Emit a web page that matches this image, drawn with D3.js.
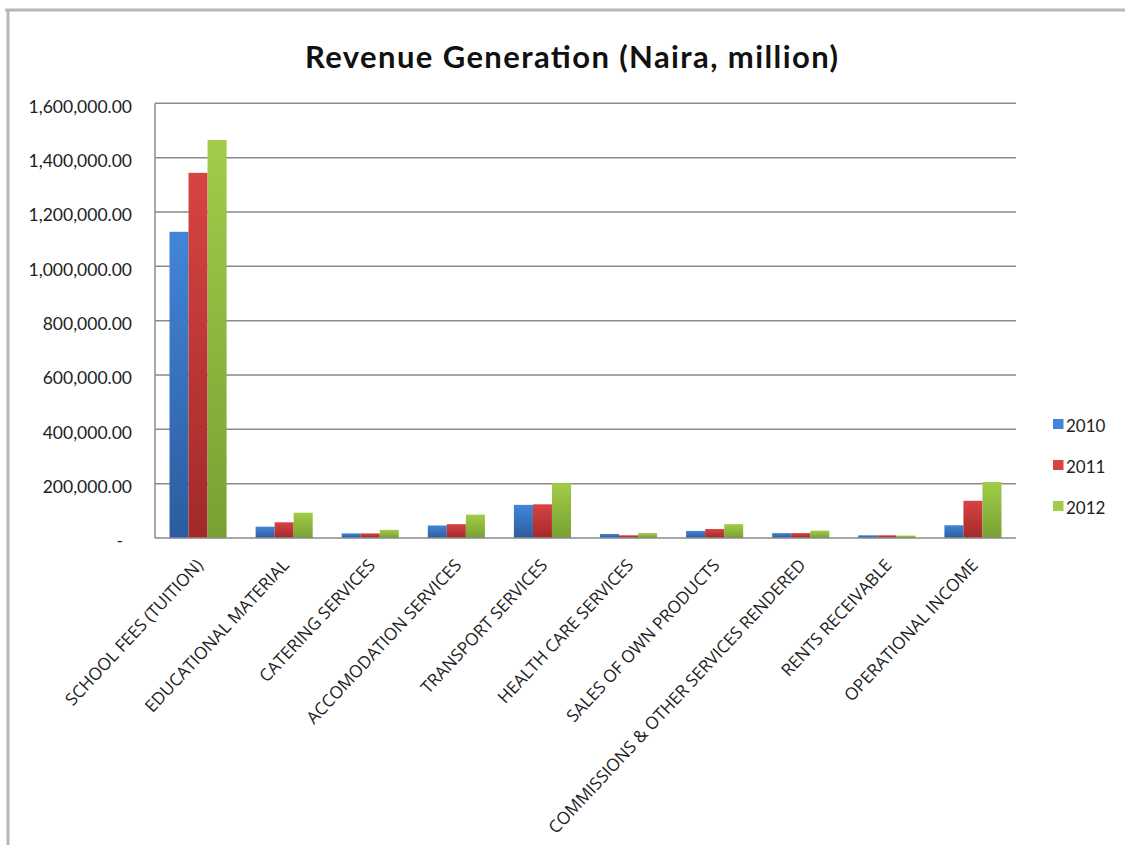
<!DOCTYPE html>
<html><head><meta charset="utf-8">
<script src="https://cdn.jsdelivr.net/npm/d3@7"></script>
<style>body{margin:0;background:#fff}svg{display:block}</style>
</head><body>
<script>
const categories = ["SCHOOL FEES (TUITION)","EDUCATIONAL MATERIAL","CATERING SERVICES","ACCOMODATION SERVICES","TRANSPORT SERVICES","HEALTH CARE SERVICES","SALES OF OWN PRODUCTS","COMMISSIONS & OTHER SERVICES RENDERED","RENTS RECEIVABLE","OPERATIONAL INCOME"];
const years = ["2010","2011","2012"];
const values2010 = [1127000, 41600, 17000, 46000, 122000, 15000, 26000, 18000, 10000, 47000];
const values2011 = [1344000, 57800, 17000, 51000, 124000, 10000, 33000, 18000, 10000, 137000];
const values2012 = [1465000, 93000, 30000, 86000, 202000, 18000, 51000, 27000, 9000, 206000];
const yTicks = [0,200000,400000,600000,800000,1000000,1200000,1400000,1600000];
const title = "Revenue Generation (Naira, million)";

const series = [values2010, values2011, values2012];
const colors = [["#4285d8","#2c5c9f"],["#d84343","#a22a2a"],["#a2cc48","#78a033"]];
const W=1125,H=845;
const svg=d3.select("body").append("svg").attr("width",W).attr("height",H);
const defs=svg.append("defs");
colors.forEach((c,i)=>{
  const g=defs.append("linearGradient").attr("id","g"+i).attr("x1",0).attr("y1",0).attr("x2",0).attr("y2",1);
  g.append("stop").attr("offset","0%").attr("stop-color",c[0]);
  g.append("stop").attr("offset","100%").attr("stop-color",c[1]);
});
// frame
svg.append("path").attr("d","M5,10 H1125 M8,10 V845").attr("stroke","#b8b8b8").attr("stroke-width",3).attr("fill","none");

const m={l:155,r:1016,t:103.3,b:538};
const x=d3.scaleBand().domain(categories).range([m.l,m.r]).paddingInner(0.337).paddingOuter(0.1685);
const xs=d3.scaleBand().domain(years).range([0,x.bandwidth()]);
const y=d3.scaleLinear().domain([0,1600000]).range([m.b,m.t]);

svg.append("text").attr("x",571.5).attr("y",67.5).attr("text-anchor","middle")
 .attr("font-family","Lato, 'Open Sans', sans-serif").attr("font-weight","bold").attr("font-size",31)
 .attr("textLength",533).attr("lengthAdjust","spacing").attr("fill","#111").text(title);

// grid
svg.append("g").selectAll("line").data(yTicks.slice(1)).join("line")
 .attr("x1",m.l).attr("x2",m.r).attr("y1",d=>y(d)).attr("y2",d=>y(d)).attr("stroke","#8a8a8a").attr("stroke-width",1.5);

const yAxis=d3.axisLeft(y).tickValues(yTicks).tickSize(0).tickPadding(23)
 .tickFormat(d=>d===0?"-":d3.format(",.2f")(d));
const ga=svg.append("g").attr("transform",`translate(${m.l},0)`).call(yAxis);
ga.select(".domain").remove();
ga.selectAll("text").attr("font-family","Lato, 'Open Sans', sans-serif").attr("font-size",17.5).attr("fill","#222")
 .attr("dy","0.5em").attr("dx",d=>d===0?-9:0);

// bars
const gb=svg.append("g");
categories.forEach((c,ci)=>{
  series.forEach((s,si)=>{
    gb.append("rect").attr("x",x(c)+xs(years[si])).attr("width",xs.bandwidth())
      .attr("y",y(s[ci])).attr("height",m.b-y(s[ci])).attr("fill",`url(#g${si})`);
  });
});

// axes lines
svg.append("line").attr("x1",m.l).attr("x2",m.l).attr("y1",m.t).attr("y2",m.b).attr("stroke","#8a8a8a").attr("stroke-width",1.5);
svg.append("line").attr("x1",m.l).attr("x2",m.r).attr("y1",m.b).attr("y2",m.b).attr("stroke","#8a8a8a").attr("stroke-width",1.5);

// x labels
const xAxis=d3.axisBottom(x).tickSize(0).tickPadding(0);
const gx=svg.append("g").attr("transform",`translate(0,${m.b})`).call(xAxis);
gx.select(".domain").remove();
gx.selectAll("text").attr("font-family","'Open Sans', Lato, sans-serif").attr("font-size",17.2).attr("fill","#222")
 .attr("text-anchor","end").attr("dy",0).attr("y",0)
 .attr("transform","translate(6,28) rotate(-47)");

// legend
const lg=svg.append("g");
years.forEach((yr,i)=>{
  const yy=432+i*41;
  lg.append("rect").attr("x",1053).attr("y",yy-13).attr("width",10.5).attr("height",10).attr("fill",colors[i][0]);
  lg.append("text").attr("x",1066).attr("y",yy).attr("font-family","Lato, 'Open Sans', sans-serif").attr("font-size",17).attr("fill","#222").text(yr);
});
</script>
</body></html>
